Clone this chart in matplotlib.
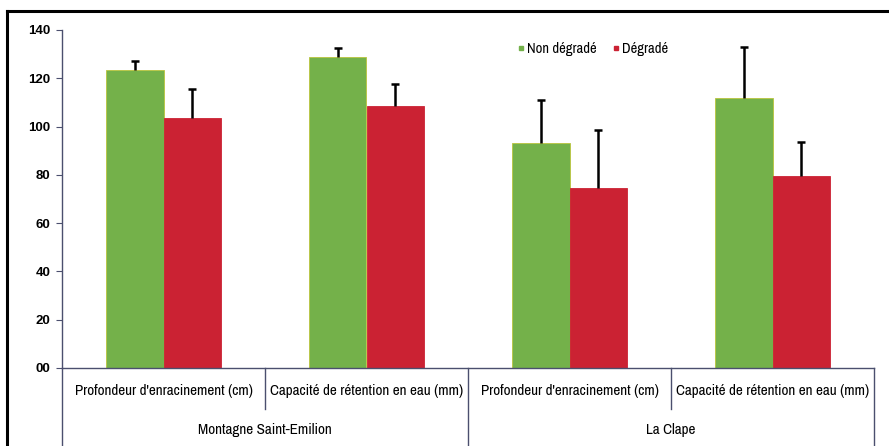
import matplotlib
matplotlib.use("Agg")
import matplotlib.pyplot as plt
from matplotlib.lines import Line2D
import numpy as np

# ---- data ----
groups = ["Montagne Saint-Emilion", "La Clape"]
categories = ["Profondeur d'enracinement (cm)", "Capacité de rétention en eau (mm)",
              "Profondeur d'enracinement (cm)", "Capacité de rétention en eau (mm)"]
category_group = [0, 0, 1, 1]
series_names = ["Non dégradé", "Dégradé"]
non_degrade = [123.5, 129.0, 93.0, 112.0]
non_degrade_err = [3.5, 3.5, 18.0, 21.0]
degrade = [103.5, 108.5, 74.5, 79.5]
degrade_err = [12.0, 9.0, 24.0, 14.0]
yticks = [0, 20, 40, 60, 80, 100, 120, 140]
ytick_labels = ["00", "20", "40", "60", "80", "100", "120", "140"]

GREEN = "#74b14a"
RED = "#cb2233"
LINE = "#4b4f6e"
narrow = ["Archivo Narrow", "Liberation Sans", "DejaVu Sans"]

W, H = 889, 446
fig = plt.figure(figsize=(W / 100, H / 100), dpi=100)
fig.patch.set_facecolor("white")
ax = fig.add_axes([62 / W, 1 - 368 / H, (874 - 62) / W, (368 - 30) / H])

x = np.arange(len(categories))
bw = 0.285
series = [(non_degrade, non_degrade_err, -bw / 2, GREEN, "#b9c43c"),
          (degrade, degrade_err, bw / 2, RED, RED)]
for vals, errs, off, col, edge in series:
    vals = np.asarray(vals)
    errs = np.asarray(errs)
    ax.bar(x + off, vals, bw, color=col, edgecolor=edge, linewidth=0.6, zorder=2)
    ax.vlines(x + off, vals, vals + errs, color="black", lw=1.8, zorder=3)
    ax.plot(x + off, vals + errs, ls="none", marker="_", markersize=5.5,
            markeredgewidth=1.8, color="black", zorder=3)

ax.set_xlim(-0.5, len(categories) - 0.5)
ax.set_ylim(0, 140)
ax.set_yticks(yticks)
ax.set_yticklabels(ytick_labels, fontsize=9.5, fontweight="bold",
                   family=["Liberation Sans", "DejaVu Sans"])
ax.tick_params(axis="y", direction="out", length=4, width=0.8, color=LINE, pad=4.5)
ax.set_xticks([])
for s in ["top", "right"]:
    ax.spines[s].set_visible(False)
for s in ["left", "bottom"]:
    ax.spines[s].set_color(LINE)
    ax.spines[s].set_linewidth(1.0)

# label table below axis
tr = ax.get_xaxis_transform()
row1 = (368 - 409) / 338
bottom = (368 - 450) / 338
n = len(categories)
edges = np.arange(n + 1) - 0.5
for i, e in enumerate(edges):
    if i == 0 or i == n:
        y1 = bottom
    elif category_group[i - 1] != category_group[i]:
        y1 = bottom
    else:
        y1 = row1
    ax.plot([e, e], [0, y1], transform=tr, color=LINE, lw=1.0, clip_on=False)

for i, c in enumerate(categories):
    ax.text(x[i], (368 - 391) / 338, c, transform=tr, ha="center", va="center",
            fontsize=10.9, family=narrow)
for g, name in enumerate(groups):
    idx = [i for i in range(n) if category_group[i] == g]
    cx = (edges[idx[0]] + edges[idx[-1] + 1]) / 2
    ax.text(cx, (368 - 430) / 338, name, transform=tr, ha="center", va="center",
            fontsize=10.9, family=narrow)

# legend
handles = [Line2D([], [], marker="s", ls="none", color=GREEN, markersize=3.3),
           Line2D([], [], marker="s", ls="none", color=RED, markersize=3.3)]
leg = fig.legend(handles, series_names, loc="center left",
                 bbox_to_anchor=(518 / W, 1 - 49 / H), ncol=2, frameon=False,
                 handlelength=0.4, handletextpad=0.2, columnspacing=1.15,
                 borderaxespad=0, borderpad=0,
                 prop=dict(family=narrow, size=10.5))

# outer frame (scanned box)
fig.add_artist(Line2D([7 / W, 7 / W], [0, 1 - 11 / H], color="black", lw=2.2,
                      transform=fig.transFigure))
fig.add_artist(Line2D([7 / W, 1], [1 - 11 / H, 1 - 11 / H], color="black", lw=2.2,
                      transform=fig.transFigure))

fig.savefig("out.png", dpi=100)
